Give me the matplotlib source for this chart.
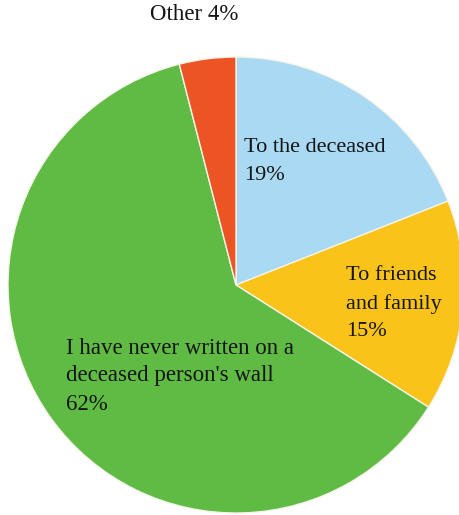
import matplotlib.pyplot as plt

plt.rcParams['font.family'] = ['Liberation Serif', 'DejaVu Serif']

labels = ['To the deceased', 'To friends and family',
          "I have never written on a deceased person's wall", 'Other']
shares = [19, 15, 62, 4]
colors = ['#a9d9f3', '#f9c31a', '#60bb45', '#ec5424']

W, H = 459, 515
fig = plt.figure(figsize=(W / 100, H / 100), dpi=100)

# pie centred at (236, 285) px with radius 228 px
cx, cy, r = 236, 285, 228
ax = fig.add_axes([(cx - r) / W, (H - cy - r) / H, 2 * r / W, 2 * r / H])
ax.pie(shares, colors=colors, startangle=90, counterclock=False,
       wedgeprops=dict(edgecolor='#f4f4e8', linewidth=1.0))
ax.set_xlim(-1, 1)
ax.set_ylim(-1, 1)
ax.set_aspect('equal')
ax.axis('off')


def label(x, y, lines, size=16):
    # one text per line so the line pitch stays fixed in pixels
    for i, s in enumerate(lines):
        fig.text(x / W, 1 - (y + i * 28) / H, s, va='center', ha='left',
                 fontsize=size, color='#151515')


label(150, 14, [f'{labels[3]} {shares[3]}%'], size=16.5)
label(244, 147, [labels[0], f'{shares[0]}%'])
label(346, 276, ['To friends', 'and family', f'{shares[1]}%'])
label(66, 348, ['I have never written on a', "deceased person's wall",
                f'{shares[2]}%'], size=16.5)

fig.savefig('out.png', dpi=100)
